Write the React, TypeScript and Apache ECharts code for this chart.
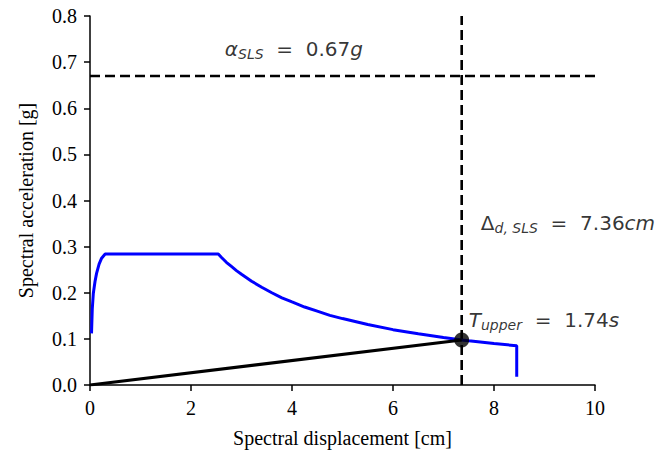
import React, { useEffect, useRef } from "react";
import * as echarts from "echarts";

const xTicks = [0, 2, 4, 6, 8, 10];
const yTicks = [0.0, 0.1, 0.2, 0.3, 0.4, 0.5, 0.6, 0.7, 0.8];

// Capacity / demand spectrum (Sd [cm], Sa [g])
const spectrumSd = [0.03, 0.045, 0.066, 0.1, 0.13, 0.18, 0.23, 0.3, 2.54, 2.6, 2.7, 2.8, 2.9, 3.0, 3.2, 3.4, 3.6, 3.8, 4.0, 4.25, 4.5, 4.75, 5.0, 5.5, 6.0, 6.5, 7.0, 7.36, 7.5, 8.0, 8.45, 8.45];
const spectrumSa = [0.112, 0.165, 0.199, 0.225, 0.242, 0.262, 0.275, 0.284, 0.284, 0.277, 0.266, 0.257, 0.248, 0.240, 0.225, 0.212, 0.200, 0.189, 0.180, 0.169, 0.160, 0.151, 0.144, 0.131, 0.120, 0.111, 0.103, 0.0977, 0.096, 0.090, 0.085, 0.018];

const secantSd = [0, 7.36];
const secantSa = [0, 0.0977];

const alphaSLS = 0.67;
const deltaSLS = 7.36;
const tUpper = 1.74;
const performancePoint = [7.36, 0.0977];

export default function App() {
  const ref = useRef<HTMLDivElement>(null);
  useEffect(() => {
    document.body.style.margin = "0";
    const chart = echarts.init(ref.current!, null, { renderer: "svg" });
    const serif = "Liberation Serif";
    const sans = "DejaVu Sans";
    const rich = {
      i: { fontFamily: sans, fontStyle: "italic", fontSize: 20, color: "#000" },
      s: { fontFamily: sans, fontStyle: "italic", fontSize: 14, color: "#000", padding: [10, 0, 0, 0] },
      n: { fontFamily: sans, fontSize: 20, color: "#000" },
    };
    chart.setOption({
      animation: false,
      grid: { left: 90, right: 62, top: 16, bottom: 70 },
      xAxis: {
        type: "value",
        min: 0,
        max: 10,
        interval: 2,
        name: "Spectral displacement [cm]",
        nameLocation: "middle",
        nameGap: 43,
        nameTextStyle: { fontFamily: serif, fontSize: 20, color: "#000" },
        axisLine: { show: true, lineStyle: { color: "#000", width: 1.5 } },
        axisTick: { show: true, length: 6, lineStyle: { color: "#000", width: 1.5 } },
        axisLabel: { fontFamily: serif, fontSize: 20, color: "#000", margin: 13, formatter: (v: number) => (xTicks.includes(v) ? String(v) : "") },
        splitLine: { show: false },
      },
      yAxis: {
        type: "value",
        min: 0,
        max: 0.8,
        interval: 0.1,
        name: "Spectral acceleration [g]",
        nameLocation: "middle",
        nameGap: 54,
        nameTextStyle: { fontFamily: serif, fontSize: 20, color: "#000" },
        axisLine: { show: true, lineStyle: { color: "#000", width: 1.5 } },
        axisTick: { show: true, length: 6, lineStyle: { color: "#000", width: 1.5 } },
        axisLabel: {
          fontFamily: serif,
          fontSize: 20,
          color: "#000",
          margin: 13,
          formatter: (v: number) => {
            const t = yTicks.find((y) => Math.abs(y - v) < 1e-6);
            return t === undefined ? "" : t.toFixed(1);
          },
        },
        splitLine: { show: false },
      },
      series: [
        {
          type: "line",
          data: spectrumSd.map((x, i) => [x, spectrumSa[i]]),
          showSymbol: false,
          lineStyle: { color: "#0000ff", width: 3 },
          z: 3,
        },
        {
          type: "line",
          data: secantSd.map((x, i) => [x, secantSa[i]]),
          showSymbol: false,
          lineStyle: { color: "#000", width: 3 },
          z: 4,
        },
        {
          type: "line",
          data: [[0, alphaSLS], [10, alphaSLS]],
          showSymbol: false,
          lineStyle: { color: "#000", width: 2.6, type: [10, 5] },
          z: 2,
        },
        {
          type: "line",
          data: [[deltaSLS, 0], [deltaSLS, 0.8]],
          showSymbol: false,
          lineStyle: { color: "#000", width: 2.6, type: [10, 5] },
          z: 2,
        },
        {
          type: "scatter",
          data: [performancePoint],
          symbolSize: 15,
          itemStyle: { color: "#000" },
          z: 5,
        },
        {
          type: "scatter",
          data: [[2.67, 0.728]],
          symbolSize: 0,
          silent: true,
          label: {
            show: true,
            position: "right",
            distance: 0,
            formatter: `{i|α}{s|SLS}{n|  =  ${alphaSLS.toFixed(2)}}{i|g}`,
            rich,
          },
        },
        {
          type: "scatter",
          data: [[7.74, 0.352]],
          symbolSize: 0,
          silent: true,
          label: {
            show: true,
            position: "right",
            distance: 0,
            formatter: `{n|Δ}{s|d, SLS}{n|  =  ${deltaSLS.toFixed(2)}}{i|cm}`,
            rich,
          },
        },
        {
          type: "scatter",
          data: [[7.5, 0.142]],
          symbolSize: 0,
          silent: true,
          label: {
            show: true,
            position: "right",
            distance: 0,
            formatter: `{i|T}{s|upper}{n|  =  ${tUpper.toFixed(2)}}{i|s}`,
            rich,
          },
        },
      ],
    });
    return () => chart.dispose();
  }, []);
  return <div ref={ref} style={{ width: 657, height: 455 }} />;
}
